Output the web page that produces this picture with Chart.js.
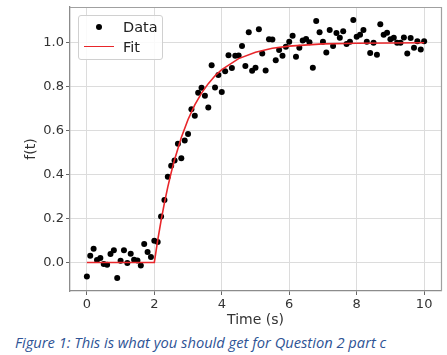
<!DOCTYPE html>
<html>
<head>
<meta charset="utf-8">
<script src="https://cdn.jsdelivr.net/npm/chart.js@4"></script>
<style>
  html, body { margin: 0; padding: 0; background: #fff; width: 447px; height: 355px; overflow: hidden; }
  #wrap { position: relative; width: 447px; height: 355px; }
  #c { position: absolute; left: 0; top: 0; }
  #legend { position: absolute; left: 78px; top: 15px; width: 83px; height: 43px; border: 1px solid #d0d0d0; border-radius: 3px; background: rgba(255,255,255,0.85); font-family: "DejaVu Sans", sans-serif; font-size: 14.5px; color: #222; }
  .row { position: absolute; left: 0; height: 18px; line-height: 18px; }
  .dot { position: absolute; left: 17px; top: 6px; width: 6px; height: 6px; border-radius: 50%; background: #000; }
  .ln { position: absolute; left: 5px; top: 8px; width: 30px; height: 0; border-top: 1.6px solid #e8262a; }
  .lbl { position: absolute; left: 44px; top: 0; white-space: nowrap; }
  #caption { position: absolute; left: 15px; top: 332px; font-family: "Open Sans", sans-serif; font-style: italic; font-size: 14.7px; color: #2e5395; white-space: nowrap; }
</style>
</head>
<body>
<div id="wrap">
  <canvas id="c" width="447" height="330"></canvas>
  <div id="legend">
    <div class="row" style="top:2px;"><span class="dot"></span><span class="lbl">Data</span></div>
    <div class="row" style="top:22px;"><span class="ln"></span><span class="lbl">Fit</span></div>
  </div>
  <div id="caption">Figure 1: This is what you should get for Question 2 part c</div>
</div>
<script>
// Measured data (time in s, f(t))
const timeValues = [
  0.0, 0.1, 0.2, 0.3, 0.4, 0.5, 0.6, 0.7, 0.8, 0.9,
  1.0, 1.1, 1.2, 1.3, 1.4, 1.5, 1.6, 1.7, 1.8, 1.9,
  2.0, 2.1, 2.2, 2.3, 2.4, 2.5, 2.6, 2.7, 2.8, 2.9,
  3.0, 3.1, 3.2, 3.3, 3.4, 3.5, 3.6, 3.7, 3.8, 3.9,
  4.0, 4.1, 4.2, 4.3, 4.4, 4.5, 4.6, 4.7, 4.8, 4.9,
  5.0, 5.1, 5.2, 5.3, 5.4, 5.5, 5.6, 5.7, 5.8, 5.9,
  6.0, 6.1, 6.2, 6.3, 6.4, 6.5, 6.6, 6.7, 6.8, 6.9,
  7.0, 7.1, 7.2, 7.3, 7.4, 7.5, 7.6, 7.7, 7.8, 7.9,
  8.0, 8.1, 8.2, 8.3, 8.4, 8.5, 8.6, 8.7, 8.8, 8.9,
  9.0, 9.1, 9.2, 9.3, 9.4, 9.5, 9.6, 9.7, 9.8, 9.9,
  10.0
];
const dataValues = [
  -0.064, 0.030, 0.062, 0.011, 0.020, -0.007, -0.010, 0.038, 0.055, -0.071,
  0.008, 0.055, -0.003, 0.040, 0.012, 0.009, -0.014, 0.084, 0.047, 0.025,
  0.099, 0.093, 0.209, 0.284, 0.390, 0.440, 0.464, 0.540, 0.474, 0.555,
  0.585, 0.697, 0.668, 0.773, 0.795, 0.759, 0.706, 0.898, 0.796, 0.853,
  0.776, 0.870, 0.943, 0.885, 0.941, 0.942, 0.986, 0.894, 1.048, 0.873,
  0.886, 1.062, 0.951, 0.874, 1.016, 1.015, 0.921, 0.967, 0.941, 0.982,
  1.005, 1.032, 0.936, 0.977, 1.011, 1.017, 1.002, 0.886, 1.099, 1.048,
  1.005, 0.956, 1.058, 0.986, 1.045, 1.023, 1.053, 0.994, 1.005, 1.104,
  1.027, 1.037, 1.058, 1.005, 0.954, 1.000, 0.946, 1.085, 1.037, 1.046,
  1.016, 1.023, 1.000, 1.000, 1.024, 0.951, 1.022, 0.977, 1.007, 0.970,
  1.007
];
// Fit curve
const fitTime = [0.0, 2.0, 2.1, 2.2, 2.3, 2.4, 2.5, 2.6, 2.8, 3.0, 3.2, 3.4, 3.6, 3.8, 4.0, 4.5, 5.0, 5.5, 6.0, 7.0, 8.0, 9.0, 10.0];
const fitValues = [0.0, 0.0, 0.100, 0.190, 0.271, 0.344, 0.409, 0.468, 0.569, 0.651, 0.717, 0.771, 0.814, 0.850, 0.878, 0.928, 0.957, 0.975, 0.985, 0.995, 0.998, 0.999, 1.0];
// Tick labels
const xTicks = [0, 2, 4, 6, 8, 10];
const yTicks = [0.0, 0.2, 0.4, 0.6, 0.8, 1.0];

const scatterPts = timeValues.map((t, i) => ({ x: t, y: dataValues[i] }));
const fitPts = fitTime.map((t, i) => ({ x: t, y: fitValues[i] }));

const frame = {
  id: 'frame',
  afterDatasetsDraw(chart) {
    const a = chart.chartArea, ctx = chart.ctx;
    ctx.save();
    ctx.strokeStyle = '#a0a0a0';
    ctx.lineWidth = 1.2;
    ctx.beginPath();
    ctx.moveTo(a.left, a.top + 0.5); ctx.lineTo(a.right + 0.5, a.top + 0.5); ctx.lineTo(a.right + 0.5, a.bottom);
    ctx.stroke();
    ctx.restore();
  }
};

const tickFont = { family: 'DejaVu Sans', size: 13 };

new Chart(document.getElementById('c'), {
  type: 'scatter',
  data: {
    datasets: [
      { label: 'Fit', data: fitPts, showLine: true, borderColor: '#e8262a', borderWidth: 1.6, pointRadius: 0, fill: false, tension: 0, order: 0 },
      { label: 'Data', data: scatterPts, showLine: false, pointRadius: 3, pointBackgroundColor: '#000', pointBorderWidth: 0, order: 1 }
    ]
  },
  options: {
    responsive: false,
    animation: false,
    devicePixelRatio: 1,
    layout: { padding: { top: 7, right: 6, left: 0, bottom: 0 } },
    plugins: { legend: { display: false }, tooltip: { enabled: false } },
    scales: {
      x: {
        type: 'linear', min: -0.5, max: 10.5,
        afterBuildTicks(s) { s.ticks = xTicks.map(v => ({ value: v })); },
        afterFit(s) { s.height = 39; s.paddingLeft = 0; s.paddingRight = 0; },
        ticks: { font: tickFont, color: '#333', padding: 2, callback: v => String(v), maxRotation: 0 },
        grid: { color: '#dcdcdc', lineWidth: 1, tickLength: 4, tickColor: '#666', drawTicks: true },
        border: { color: '#8c8c8c', width: 1.3 },
        title: { display: true, text: 'Time (s)', font: { family: 'DejaVu Sans', size: 14 }, color: '#333', padding: { top: 0, bottom: 1 } }
      },
      y: {
        type: 'linear', min: -0.13, max: 1.163,
        afterBuildTicks(s) { s.ticks = yTicks.map(v => ({ value: v })); },
        afterFit(s) { s.width = 70; s.paddingTop = 0; s.paddingBottom = 0; },
        ticks: { font: tickFont, color: '#333', padding: 2, callback: v => v.toFixed(1) },
        grid: { color: '#dcdcdc', lineWidth: 1, tickLength: 4, tickColor: '#666', drawTicks: true },
        border: { color: '#8c8c8c', width: 1.3 },
        title: { display: true, text: 'f(t)', font: { family: 'DejaVu Sans', size: 14 }, color: '#333', padding: { top: 23, bottom: 0 } }
      }
    }
  },
  plugins: [frame]
});
</script>
</body>
</html>
